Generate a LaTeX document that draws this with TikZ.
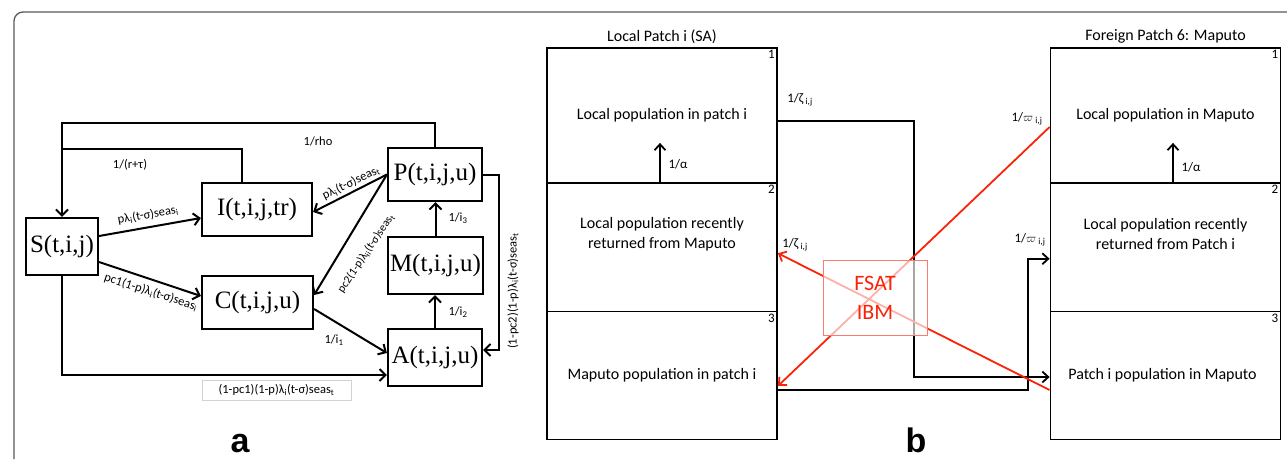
\documentclass[tikz,border=0pt]{standalone}
\usepackage{fontspec}
\setmainfont{Carlito}
\newfontfamily\compfont{Liberation Serif}
\newfontfamily\panelfont{Liberation Sans}
\usetikzlibrary{arrows.meta,calc,positioning}
\definecolor{fsat}{RGB}{250,35,10}
% compartment model (left) and patch model (right)
\tikzstyle{comp} = [draw, line width=2.2pt, inner sep=0pt,
minimum height=53pt, font=\compfont\fontsize{25}{25}\selectfont]
\tikzstyle{flow} = [-{Straight Barb[length=6pt,width=12pt]}, line width=2pt]
\tikzstyle{rate} = [inner sep=1pt, font=\fontsize{12.5}{14}\selectfont]
\tikzstyle{cell} = [draw, line width=1.8pt, minimum width=230pt, inner sep=0pt]
\tikzstyle{cellno} = [anchor=north east, inner sep=3pt, font=\fontsize{13}{13}\selectfont]
\tikzstyle{popn} = [align=center, font=\fontsize{16}{20}\selectfont]
\tikzstyle{blab} = [inner sep=1pt, font=\fontsize{13}{14}\selectfont]
\tikzstyle{mig} = [-{Straight Barb[length=6pt,width=11pt]}, line width=1.8pt]
\tikzstyle{migred} = [mig, draw=fsat]

\begin{document}
\begin{tikzpicture}[x=1pt,y=-1pt]
\useasboundingbox (0,0) rectangle (1287,459);
\draw[black!65, line width=1.3pt, rounded corners=9pt] (14,459) -- (14,12) -- (1287,12);

% compartments
\node[comp, minimum width=72pt, minimum height=57pt] (S) at (62,246.5) {S(t,i,j)};
\node[comp, minimum width=110pt] (I) at (257,209.5) {I(t,i,j,tr)};
\node[comp, minimum width=94pt] (P) at (435,174.5) {P(t,i,j,u)};
\node[comp, minimum width=95pt, minimum height=57pt] (M) at (435.5,265.5) {M(t,i,j,u)};
\node[comp, minimum width=111pt] (C) at (257.5,302.5) {C(t,i,j,u)};
\node[comp, minimum width=94pt, minimum height=57pt] (A) at (435,357.5) {A(t,i,j,u)};

% flows between compartments
\draw[flow] (P.north) -- ++(0,-24) -| (S.north);
\draw[line width=2pt] ($(I.north)+(-15,0)$) |- ($(S.north)+(0,-68)$);
\draw[flow] ($(S.east)+(0,-10.5)$) -- ($(I.west)+(0,8.5)$);
\draw[flow] ($(S.east)+(0,15.5)$) -- ($(C.west)+(0,-6.5)$);
\draw[flow] (S.south) |- ($(A.west)+(0,17.5)$);
\draw[flow] ($(C.east)+(0,6.5)$) -- ($(A.west)+(0,-4.5)$);
\draw[flow] (A.north) -- (A.north |- M.south);
\draw[flow] (M.north) -- (M.north |- P.south);
\draw[flow] (P.west) -- ($(I.east)+(0,2.5)$);
\draw[flow] (P.west) -- ($(C.east)+(0,-7.5)$);
\draw[flow] (P.east) -- ++(16,0) |- ($(A.east)+(0,-7.5)$);

% rates
\node[rate] (lRho) at (318,141) {1/rho};
\node[rate] (lRtau) at (130,165) {1/(r+τ)};
\node[rate, rotate=10] (lSI) at (148,215) {pλ\textsubscript{i}(t-σ)seas\textsubscript{i}};
\node[rate, rotate=-18] (lSC) at (151,292) {pc1(1-p)λ\textsubscript{i}(t-σ)seas\textsubscript{i}};
\node[rate, rotate=26] (lPI) at (351,183) {pλ\textsubscript{i}(t-σ)seas\textsubscript{t}};
\node[rate, rotate=56, font=\fontsize{11.5}{13}\selectfont] (lPC) at (366,253)
  {pc2(1-p)λ\textsubscript{ii}(t-σ)seas\textsubscript{t}};
\node[rate] (lCA) at (334,340) {1/i\textsubscript{1}};
\node[rate] (lAM) at (458,312) {1/i\textsubscript{2}};
\node[rate] (lMP) at (458,218) {1/i\textsubscript{3}};
\node[rate, rotate=90] (lPA) at (513,291) {(1-pc2)(1-p)λ\textsubscript{i}(t-σ)seas\textsubscript{t}};
\node[rate, draw=gray!35, line width=0.8pt, minimum width=149pt, minimum height=20pt]
  (lSA) at (276.5,390) {(1-pc1)(1-p)λ\textsubscript{i}(t-σ)seas\textsubscript{t}};

% patches
\foreach \col/\xc in {L/662,R/1165.5}{
  \node[cell, minimum height=135pt] (\col1) at (\xc,115.5) {};
  \node[cell, minimum height=128.5pt] (\col2) at (\xc,247.25) {};
  \node[cell, minimum height=128pt] (\col3) at (\xc,375.5) {};
  \foreach \n in {1,2,3}
    \node[cellno] (\col\n no) at (\col\n.north east) {\n};
}
\node[above=0pt of L1, font=\fontsize{16}{18}\selectfont] (tL) {Local Patch i (SA)};
\node[above=0pt of R1, font=\fontsize{16}{18}\selectfont] (tR) {Foreign Patch 6: Maputo};

\node[popn] (L1txt) at (L1) {Local population in patch i};
\node[popn] (L2txt) at ($(L2)+(0,-13)$) {Local population recently\\returned from Maputo};
\node[popn] (L3txt) at (L3) {Maputo population in patch i};
\node[popn] (R1txt) at (R1) {Local population in Maputo};
\node[popn] (R2txt) at ($(R2)+(0,-13)$) {Local population recently\\returned from Patch i};
\node[popn] (R3txt) at ($(R3)+(-3,0)$) {Patch i population in Maputo};

% returns home
\draw[mig] ($(L1.south)+(-2,0)$) -- ++(0,-41);
\draw[mig] ($(R1.south)+(7.5,0)$) -- ++(0,-41);
\node[blab] (La) at (678,164) {1/α};
\node[blab] (Ra) at (1191,167) {1/α};

% travel between patches
\draw[mig] ($(L1.east)+(0,5.5)$) -- ++(136,0) |- ($(R3.west)+(0,1.5)$);
\draw[mig] ($(L3.east)+(0,14.5)$) -- ++(250,0) |- ($(R2.west)+(0,11.5)$);
\draw[migred] ($(R1.west)+(0,11.5)$) -- ($(L3.east)+(0,10.5)$);
\draw[migred] ($(R3.west)+(0,14.5)$) -- ($(L2.east)+(0,6)$);
\node[blab] (zL) at (800,100) {1/ζ\,\textsubscript{i,j}};
\node[blab] (wR) at (1027,119) {1/$\varpi$\,\textsubscript{i,j}};
\node[blab] (zR) at (795,245) {1/ζ\,\textsubscript{i,j}};
\node[blab] (wL) at (1030,240) {1/$\varpi$\,\textsubscript{i,j}};

\node[draw=fsat!60, line width=0.8pt, fill=white, fill opacity=0.65, text opacity=1,
  text=fsat, minimum width=104pt, minimum height=75pt, align=center,
  font=\fontsize{22}{29}\selectfont] (ibm) at (875,297.5) {FSAT\\IBM};

% panel letters
\node[anchor=base, font=\panelfont\bfseries\fontsize{34}{34}\selectfont] (pa) at (240,452) {a};
\node[anchor=base, font=\panelfont\bfseries\fontsize{34}{34}\selectfont] (pb) at (916,452) {b};
\end{tikzpicture}
\end{document}
